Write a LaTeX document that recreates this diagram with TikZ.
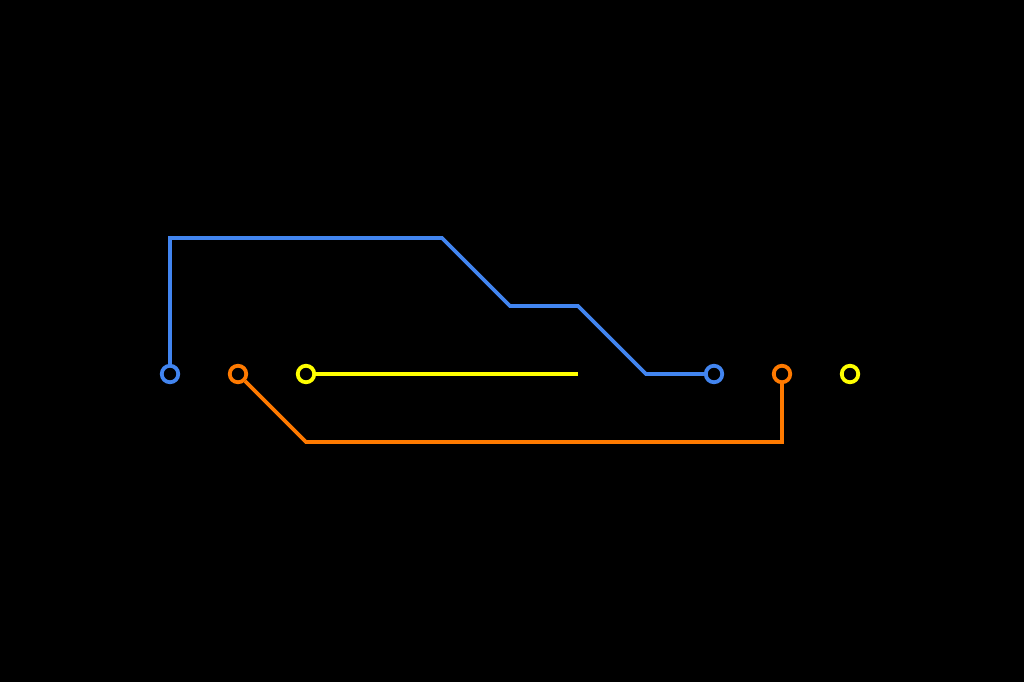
\documentclass[tikz,border=0pt]{standalone}
\definecolor{cblue}{RGB}{66,133,240}
\definecolor{corange}{RGB}{255,122,0}
\definecolor{cyellow}{RGB}{255,255,0}
\tikzset{
  port/.style={circle,draw=#1,fill=black,line width=3.8pt,minimum size=16.5pt,inner sep=0pt},
  wire/.style={draw=#1,line width=3.8pt,line join=miter},
}
\begin{document}
\begin{tikzpicture}[x=1pt,y=-1pt]
\useasboundingbox[fill=black] (0,0) rectangle (1024,682);
\node[port=cblue] (pa) at (170,374) {};
\node[port=corange] (pb) at (238,374) {};
\node[port=cyellow] (pc) at (306,374) {};
\node[port=cblue] (pd) at (714,374) {};
\node[port=corange] (pe) at (782,374) {};
\node[port=cyellow] (pf) at (850,374) {};
\coordinate (b1) at (170,238);
\coordinate (b2) at (442,238);
\coordinate (b3) at (510,306);
\coordinate (b4) at (578,306);
\coordinate (b5) at (646,374);
\coordinate (o1) at (306,442);
\coordinate (o2) at (782,442);
\coordinate (yend) at (578,374);
\draw[wire=cblue] (pa) -- (b1) -- (b2) -- (b3) -- (b4) -- (b5) -- (pd);
\draw[wire=corange] (pb) -- (o1) -- (o2) -- (pe);
\draw[wire=cyellow] (pc) -- (yend);
\end{tikzpicture}
\end{document}
